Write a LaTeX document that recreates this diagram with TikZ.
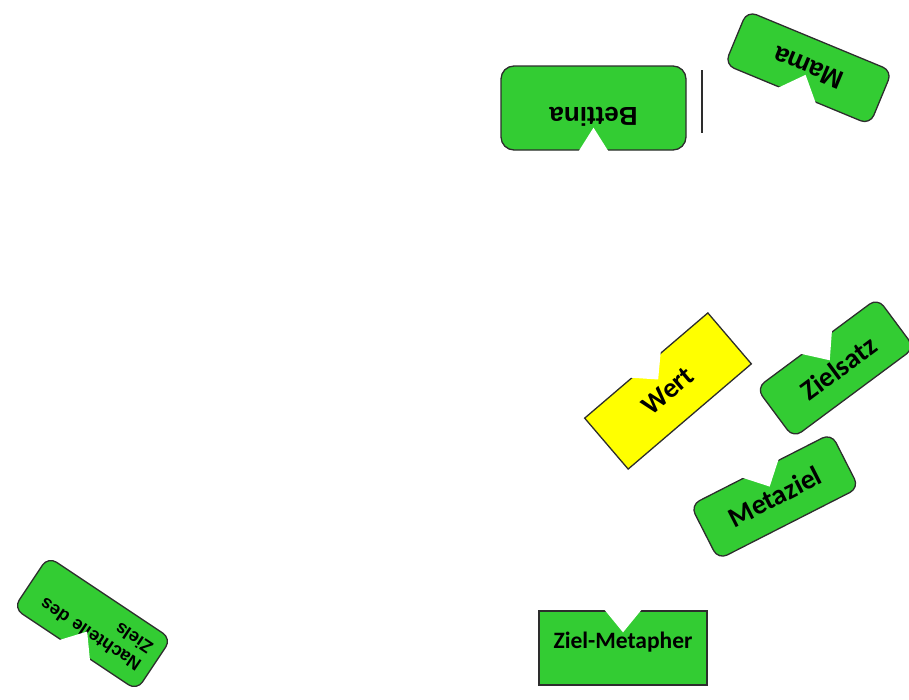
\documentclass[tikz,border=0pt]{standalone}
\usepackage{fontspec}
\usetikzlibrary{calc}
\newfontfamily\carlito{Carlito}
\newfontfamily\libsans{Liberation Sans}
\definecolor{cardgreen}{RGB}{51,204,51}
\definecolor{cardyellow}{RGB}{255,255,0}
\definecolor{cardedge}{RGB}{45,45,45}

% #1 name, #2 centre, #3 angle, #4 width, #5 height, #6 shape style,
% #7 label shift towards the notched side, #8 label style, #9 label
\newcommand\card[9]{%
  \node[cardshape, #6, rotate=#3, minimum width=#4, minimum height=#5] (#1) at #2 {};
  \node[cardlabel, #8, rotate=#3] (#1-text) at ($(#1.center)!#7!(#1.north)$) {#9};
}
% V-shaped cut in the card's top side: #1 card, #2 half opening, #3 depth
\newcommand\notch[3]{%
  \coordinate (#1-nl) at ($(#1.north)!#2!(#1.north west)$);
  \coordinate (#1-nr) at ($(#1.north)!#2!(#1.north east)$);
  \coordinate (#1-nt) at ($(#1.north)!#3!(#1.center)$);
  \fill[white] ($(#1-nl)!-3pt!(#1-nt)$) -- (#1-nt) -- ($(#1-nr)!-3pt!(#1-nt)$) -- cycle;
}

\begin{document}
\begin{tikzpicture}[x=1pt, y=-1pt,
  cardshape/.style={draw=cardedge, line width=1.3pt, fill=cardgreen, inner sep=0pt},
  softcorner/.style={rounded corners=10pt},
  yellowcard/.style={fill=cardyellow},
  cardlabel/.style={inner sep=0pt, text=black},
  sansbig/.style={font=\libsans\bfseries\fontsize{26}{30}\selectfont},
  sanssmall/.style={font=\libsans\bfseries\fontsize{18}{21}\selectfont},
  calbig/.style={font=\carlito\bfseries\fontsize{28}{32}\selectfont},
  calsmall/.style={font=\carlito\bfseries\fontsize{23.5}{27}\selectfont}]
\useasboundingbox (0,0) rectangle (909,699);
\clip (0,0) rectangle (909,699);

% upper cards
\card{bettina}{(593.5,108)}{180}{185pt}{84pt}{rounded corners=13pt}{9pt}{sansbig}{Bettina}
\notch{bettina}{14.5pt}{23pt}
\coordinate (barTop) at (702,70);
\coordinate (barBottom) at (702,133);
\draw[cardedge, line width=1.5pt] (barTop) -- (barBottom);

\card{mama}{(808.5,67.75)}{157.5}{157pt}{58pt}{softcorner}{0pt}{sansbig}{Mama}
\notch{mama}{20pt}{22pt}

% middle group
\card{wert}{(668,391)}{40.5}{162pt}{67pt}{yellowcard}{0pt}{calbig}{Wert}
\notch{wert}{19.5pt}{19pt}

\card{zielsatz}{(835.5,368)}{36.6}{151pt}{62pt}{softcorner}{0pt}{calbig, xshift=3pt}{Zielsatz}
\notch{zielsatz}{19pt}{22pt}

\card{metaziel}{(774.75,496.5)}{27}{158pt}{61pt}{softcorner}{0pt}{calbig}{Metaziel}
\notch{metaziel}{20pt}{20pt}

% bottom cards
\card{metapher}{(623,648)}{0}{168pt}{74pt}{}{6pt}{calsmall}{Ziel-Metapher}
\notch{metapher}{18pt}{22pt}

\card{nachteile}{(92.5,623.5)}{146.3}{148pt}{62pt}{softcorner}{0pt}{sanssmall, text width=126pt, align=left}{Nachteile des\\Ziels}
\notch{nachteile}{18pt}{22pt}
\end{tikzpicture}
\end{document}
